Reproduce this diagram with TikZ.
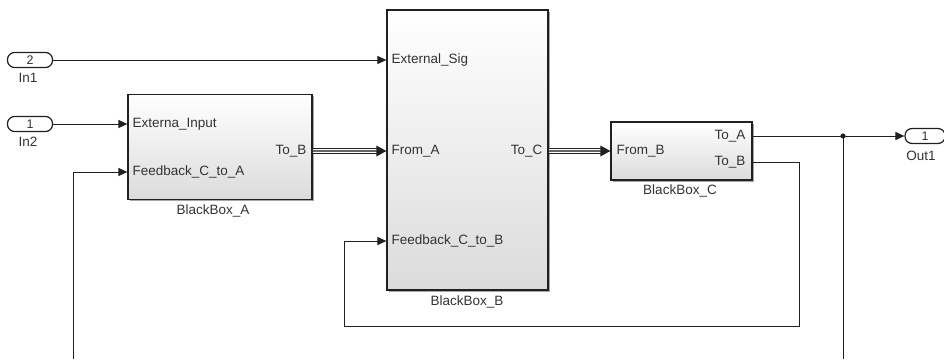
\documentclass[tikz,border=0pt]{standalone}
\usepackage{fontspec}
\setmainfont{Liberation Sans}
\usetikzlibrary{arrows.meta,shadows,calc}
\definecolor{txt}{HTML}{333333}
\definecolor{edge}{HTML}{202020}
\tikzset{
  blk/.style={draw=edge, line width=1.2pt, top color=white, bottom color=black!14,
    drop shadow={shadow xshift=1.6pt, shadow yshift=-1.6pt, opacity=0.35, fill=black},
    inner sep=0pt},
  io/.style={draw=edge, line width=1.2pt, fill=white, rounded corners=7pt,
    minimum width=45pt, minimum height=15pt, inner sep=0pt,
    font=\fontsize{12.5}{13}\selectfont, text=txt},
  plbl/.style={font=\fontsize{13.5}{15}\selectfont, text=txt, inner sep=0pt},
  blbl/.style={font=\fontsize{13.5}{15}\selectfont, text=txt, inner sep=0pt},
  sig/.style={line width=1pt, draw=edge, -{Triangle[length=9pt,width=8pt]}},
  wire/.style={line width=1pt, draw=edge},
  busout/.style={line width=6.5pt, draw=edge},
  busmid/.style={line width=3.8pt, draw=white},
  buscore/.style={line width=1.3pt, draw=black!60},
}
\begin{document}
\begin{tikzpicture}[x=1pt,y=-1pt]
\useasboundingbox (0,0) rectangle (944,359);
% blocks
\node[blk, minimum width=184pt, minimum height=105pt] (A) at (220,147) {};
\node[blk, minimum width=161pt, minimum height=280pt] (B) at (467.5,150) {};
\node[blk, minimum width=141pt, minimum height=58pt] (C) at (681.5,151) {};
% block names
\node[blbl] (An) at (213,211) {BlackBox\_A};
\node[blbl] (Bn) at (467,302) {BlackBox\_B};
\node[blbl] (Cn) at (680,191) {BlackBox\_C};
% ports
\node[io] (In1) at (30,60) {2};
\node[plbl] (In1n) at (28,78) {In1};
\node[io] (In2) at (30,124) {1};
\node[plbl] (In2n) at (28,142) {In2};
\node[io, minimum width=40pt] (Out1) at (925,136) {1};
\node[plbl] (Out1n) at (921,156) {Out1};
% port coordinates
\coordinate (Ai1) at (A.west |- 0,124);
\coordinate (Ai2) at (A.west |- 0,172);
\coordinate (Ao1) at (A.east |- 0,151);
\coordinate (Bi1) at (B.west |- 0,60);
\coordinate (Bi2) at (B.west |- 0,151);
\coordinate (Bi3) at (B.west |- 0,241);
\coordinate (Bo1) at (B.east |- 0,151);
\coordinate (Ci1) at (C.west |- 0,151);
\coordinate (Co1) at (C.east |- 0,136);
\coordinate (Co2) at (C.east |- 0,162);
% port labels
\node[plbl, anchor=west] (LAi1) at ([xshift=5pt]Ai1) {Externa\_Input};
\node[plbl, anchor=west] (LAi2) at ([xshift=5pt]Ai2) {Feedback\_C\_to\_A};
\node[plbl, anchor=east] (LAo1) at ([xshift=-6pt]Ao1) {To\_B};
\node[plbl, anchor=west] (LBi1) at ([xshift=5pt]Bi1) {External\_Sig};
\node[plbl, anchor=west] (LBi2) at ([xshift=5pt]Bi2) {From\_A};
\node[plbl, anchor=west] (LBi3) at ([xshift=5pt]Bi3) {Feedback\_C\_to\_B};
\node[plbl, anchor=east] (LBo1) at ([xshift=-6pt]Bo1) {To\_C};
\node[plbl, anchor=west] (LCi1) at ([xshift=6pt]Ci1) {From\_B};
\node[plbl, anchor=east] (LCo1) at ([xshift=-7pt]Co1) {To\_A};
\node[plbl, anchor=east] (LCo2) at ([xshift=-7pt]Co2) {To\_B};
% signals
\draw[sig] (In1.east) -- (Bi1);
\draw[sig] (In2.east) -- (Ai1);
\coordinate (J) at (843,136);
\draw[sig] (Co1) -- (Out1.west);
\fill[edge] (J) circle (2.6pt);
\coordinate (Bot1) at (843,359);
\coordinate (Bot2) at (73,359);
\draw[wire] (J) -- (Bot1);
\draw[sig] (Bot2) |- (Ai2);
\coordinate (Lp1) at (799,326);
\coordinate (Lp2) at (344,326);
\draw[sig] (Co2) -| (Lp1) -- (Lp2) |- (Bi3);
% buses
\foreach \s/\t in {Ao1/Bi2, Bo1/Ci1}{
  \draw[busout] (\s) -- ([xshift=-8pt]\t);
  \draw[busmid] ([xshift=0.6pt]\s) -- ([xshift=-8pt]\t);
  \draw[buscore] (\s) -- ([xshift=-8pt]\t);
  \fill[edge] (\t) -- ++(-10,-5.5) -- ++(0,11) -- cycle;
}
\end{tikzpicture}
\end{document}
